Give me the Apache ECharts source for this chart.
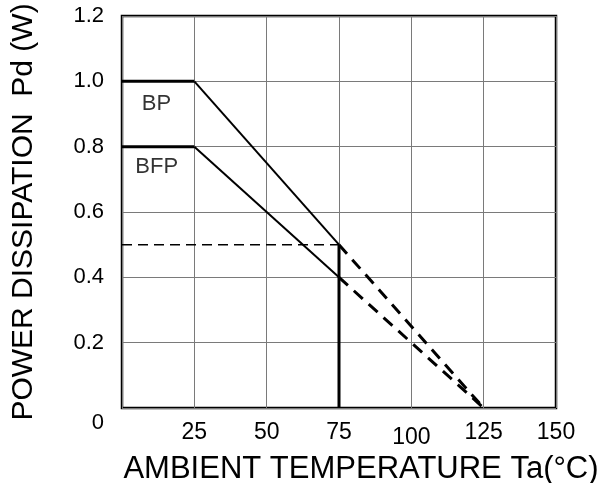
<!DOCTYPE html>
<html><head><meta charset="utf-8">
<script src="https://cdn.jsdelivr.net/npm/echarts@6/dist/echarts.min.js"></script>
<style>html,body{margin:0;padding:0;background:#fff}#c{width:612px;height:483px}</style>
</head><body><div id="c"></div>
<script>
// Data
const xTicks = [0, 25, 50, 75, 100, 125, 150];
const yTicks = [0, 0.2, 0.4, 0.6, 0.8, 1.0, 1.2];
const bpFlat = [[0, 1.0], [25, 1.0]];
const bpSlope = [[25, 1.0], [75, 0.5]];
const bpDashed = [[75, 0.5], [125, 0]];
const bfpFlat = [[0, 0.8], [25, 0.8]];
const bfpSlope = [[25, 0.8], [75, 0.4]];
const bfpDashed = [[75, 0.4], [125, 0]];
const refHorizontal = [[0, 0.5], [75, 0.5]];
const refVertical = [[75, 0.5], [75, 0]];
const seriesLabels = [{name: 'BP', value: [11.9, 0.93]}, {name: 'BFP', value: [12.0, 0.737]}];

const font = '"Liberation Sans", Arial, Helvetica, sans-serif';
const chart = echarts.init(document.getElementById('c'), null, {renderer: 'canvas'});
const line = (data, width, dashed) => ({
  type: 'line', data, symbol: 'none', silent: true, animation: false,
  lineStyle: {color: '#000', width, type: dashed ? dashed : 'solid', cap: 'butt'}
});
chart.setOption({
  animation: false,
  grid: {left: 122, right: 56, top: 16, bottom: 75, outerBoundsMode: 'none', containLabel: false,
    show: true, borderColor: '#000', borderWidth: 2.5, backgroundColor: 'transparent'},
  xAxis: {
    type: 'value', min: xTicks[0], max: xTicks[xTicks.length - 1], interval: 25,
    name: 'AMBIENT TEMPERATURE Ta(°C)', nameLocation: 'middle', nameGap: 42,
    nameTextStyle: {color: '#000', fontSize: 31, fontFamily: font, padding: [0, 0, 0, 44]},
    axisLine: {show: false},
    axisTick: {show: false},
    splitLine: {show: true, lineStyle: {color: '#7a7a7a', width: 1}},
    axisLabel: {
      color: '#000', fontSize: 23, fontFamily: font, margin: 13,
      formatter: v => v === 0 ? '' : (v === 100 ? '{d|100}' : String(v)),
      rich: {d: {fontSize: 23, fontFamily: font, color: '#000', padding: [5, 0, 0, 0]}}
    }
  },
  yAxis: {
    type: 'value', min: yTicks[0], max: yTicks[yTicks.length - 1], interval: 0.2,
    name: 'POWER DISSIPATION  Pd (W)', nameLocation: 'middle', nameGap: 83,
    nameTextStyle: {color: '#000', fontSize: 30, fontFamily: font},
    axisLine: {show: false},
    axisTick: {show: false},
    splitLine: {show: true, lineStyle: {color: '#7a7a7a', width: 1}},
    axisLabel: {
      color: '#000', fontSize: 22, fontFamily: font, margin: 18,
      formatter: v => v === 0 ? '{z|0}' : v.toFixed(1),
      rich: {z: {fontSize: 22, fontFamily: font, color: '#000', padding: [29, 0, 0, 0]}}
    }
  },
  series: [
    line(bpFlat, 3),
    line(bfpFlat, 3),
    line(bpSlope, 2),
    line(bfpSlope, 2),
    line(bpDashed, 3, [12, 8]),
    line(bfpDashed, 3, [12, 8]),
    line(refHorizontal, 1.5, [10, 6]),
    line(refVertical, 3),
    {
      type: 'scatter', symbolSize: 0, silent: true, data: seriesLabels,
      label: {show: true, position: 'inside', formatter: p => p.name, color: '#000', fontSize: 22, fontFamily: font}
    }
  ]
});
</script>
</body></html>
